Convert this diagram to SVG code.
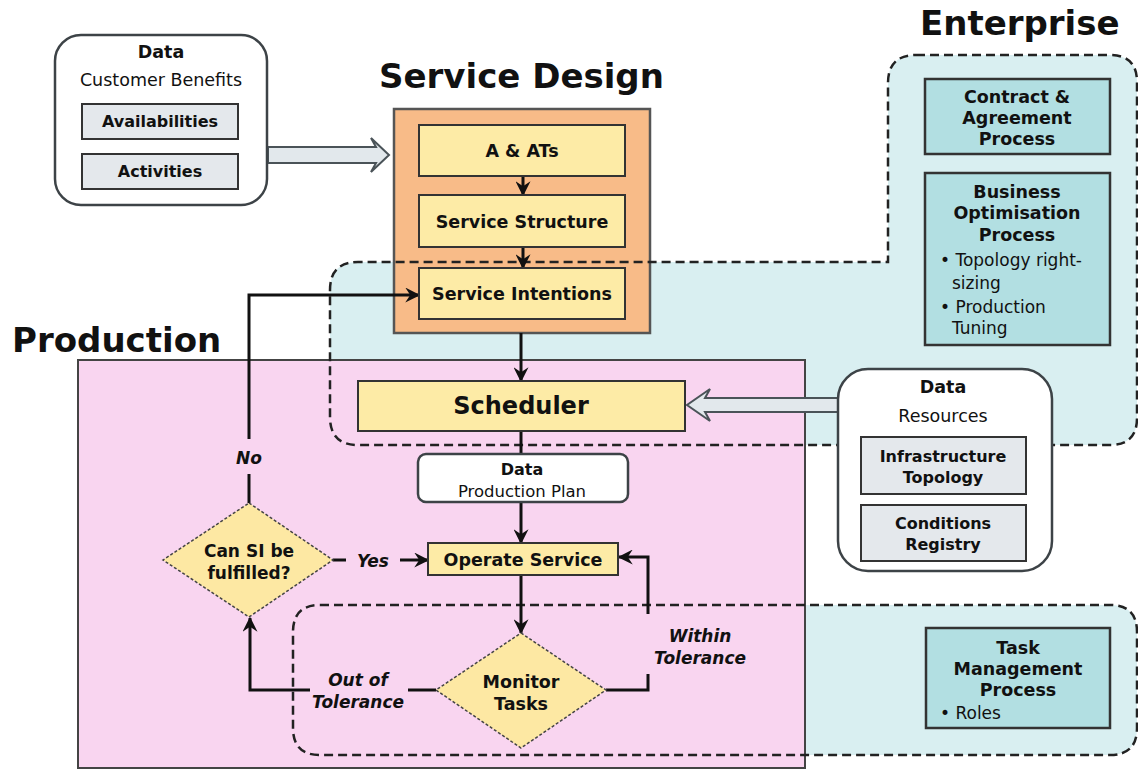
<svg xmlns="http://www.w3.org/2000/svg" width="1138" height="770" viewBox="0 0 1138 770">
<style>
text{font-family:"DejaVu Sans","Liberation Sans",sans-serif;fill:#111;}
.t{font-size:34px;font-weight:bold;}
.b{font-size:17.5px;font-weight:bold;text-anchor:middle;}
.n{font-size:17.5px;text-anchor:middle;}
.l{font-size:17px;}
.s{font-size:16px;}
.lab{font-size:17px;font-weight:bold;font-style:italic;text-anchor:middle;}
.data{fill:#fff;stroke:#3d4347;stroke-width:2.5;}
.inner{fill:#e4e8ec;stroke:#333;stroke-width:2;}
.yel{fill:#fdeba6;stroke:#333;stroke-width:2;}
.teal{fill:#b2dfe2;stroke:#333;stroke-width:2.5;}
.dash{fill:none;stroke:#222;stroke-width:2.5;stroke-dasharray:9 5;}
.hollow{fill:#e2e8ec;stroke:#4a5358;stroke-width:2;}
.c{fill:none;stroke:#111;stroke-width:3;}
.ca{fill:none;stroke:#111;stroke-width:3;marker-end:url(#ah);}
</style>
<defs>
<marker id="ah" viewBox="0 0 12 12" refX="11" refY="6" markerWidth="5" markerHeight="5" orient="auto" markerUnits="strokeWidth">
<path d="M0,0 L12,6 L0,12 L4,6 Z" fill="#111"/>
</marker>
</defs>
<rect width="1138" height="770" fill="#fff"/>

<g id="enterprise-fill">
<path d="M916,55 L1110,55 Q1137,55 1137,82 L1137,418 Q1137,445 1110,445 L358,445 Q330,445 330,417 L330,290 Q330,262 358,262 L888,262 L888,83 Q888,55 916,55 Z" fill="#d9eff1"/>
<path d="M320,605 L1110,605 Q1137,605 1137,632 L1137,728 Q1137,755 1110,755 L320,755 Q293,755 293,728 L293,632 Q293,605 320,605 Z" fill="#d9eff1"/>
</g>
<g id="production">
<rect x="78" y="360" width="727" height="408" fill="#f9d5f0" stroke="#444" stroke-width="2"/>
<text class="t" x="12" y="352">Production</text>
</g>

<g id="service-design">
<text class="t" x="379" y="88">Service Design</text>
<rect x="394" y="109" width="256" height="224" fill="#f8bb88" stroke="#555" stroke-width="2.5"/>
</g>

<g id="enterprise-outline">
<path class="dash" d="M916,55 L1110,55 Q1137,55 1137,82 L1137,418 Q1137,445 1110,445 L358,445 Q330,445 330,417 L330,290 Q330,262 358,262 L888,262 L888,83 Q888,55 916,55 Z"/>
<text class="t" x="920" y="35">Enterprise</text>
</g>
<g id="task-region">
<path class="dash" d="M320,605 L1110,605 Q1137,605 1137,632 L1137,728 Q1137,755 1110,755 L320,755 Q293,755 293,728 L293,632 Q293,605 320,605 Z"/>
</g>

<g id="connectors">
<polygon class="hollow" points="268,147 376,147 371,138 389,155 371,172 376,163 268,163"/>
<polygon class="hollow" points="838,398 705,398 710,389 687,405 710,421 705,412 838,412"/>
<line class="ca" x1="523" y1="176" x2="523" y2="195"/>
<line class="ca" x1="523" y1="247" x2="523" y2="268"/>
<line class="ca" x1="521" y1="333" x2="521" y2="381"/>
<line class="c" x1="521" y1="431" x2="521" y2="454"/>
<line class="ca" x1="521" y1="502" x2="521" y2="543"/>
<line class="ca" x1="521" y1="575" x2="521" y2="633"/>
<polyline class="c" points="606,690 648,690 648,674"/>
<polyline class="ca" points="648,614 648,557 619,557"/>
<text class="lab" x="700" y="642">Within</text>
<text class="lab" x="700" y="664">Tolerance</text>
<line class="c" x1="436" y1="690" x2="408" y2="690"/>
<polyline class="ca" points="310,690 250,690 250,618"/>
<text class="lab" x="358" y="686">Out of</text>
<text class="lab" x="358" y="708">Tolerance</text>
<line class="c" x1="333" y1="560" x2="346" y2="560"/>
<line class="ca" x1="400" y1="560" x2="428" y2="560"/>
<text class="lab" x="373" y="567">Yes</text>
<line class="c" x1="249" y1="503" x2="249" y2="474"/>
<polyline class="ca" points="249,439 249,295 419,295"/>
<text class="lab" x="249" y="464">No</text>
</g>

<g id="data-customer">
<rect class="data" x="55" y="35" width="212" height="170" rx="26"/>
<text class="b" x="161" y="58">Data</text>
<text class="n" x="161" y="86">Customer Benefits</text>
<rect class="inner" x="82" y="104" width="156" height="35"/>
<text class="b" x="160" y="127" style="font-size:16px">Availabilities</text>
<rect class="inner" x="82" y="154" width="156" height="35"/>
<text class="b" x="160" y="177" style="font-size:16px">Activities</text>
</g>

<g id="a-ats"><rect class="yel" x="419" y="125" width="206" height="51"/><text class="b" x="522" y="157">A &amp; ATs</text></g>
<g id="service-structure"><rect class="yel" x="419" y="195" width="206" height="52"/><text class="b" x="522" y="228">Service Structure</text></g>
<g id="service-intentions"><rect class="yel" x="419" y="268" width="206" height="51"/><text class="b" x="522" y="300">Service Intentions</text></g>

<g id="scheduler"><rect class="yel" x="358" y="381" width="327" height="50"/><text class="b" x="521" y="414" style="font-size:24px">Scheduler</text></g>

<g id="data-plan">
<rect class="data" x="418" y="454" width="210" height="48" rx="8"/>
<text class="b" x="522" y="475" style="font-size:16px">Data</text>
<text class="n" x="522" y="497" style="font-size:16.5px">Production Plan</text>
</g>

<g id="operate-service"><rect class="yel" x="428" y="543" width="190" height="32"/><text class="b" x="523" y="566">Operate Service</text></g>

<g id="can-si">
<polygon points="249,503 333,560 249,617 163,560" fill="#fde8a3" stroke="#444" stroke-width="1.5" stroke-dasharray="3 2"/>
<text class="b" x="249" y="557" style="font-size:17px">Can SI be</text>
<text class="b" x="249" y="579" style="font-size:17px">fulfilled?</text>
</g>

<g id="monitor-tasks">
<polygon points="521,633 606,690 521,748 436,690" fill="#fde8a3" stroke="#444" stroke-width="1.5" stroke-dasharray="3 2"/>
<text class="b" x="521" y="688">Monitor</text>
<text class="b" x="521" y="710">Tasks</text>
</g>

<g id="data-resources">
<rect class="data" x="838" y="369" width="214" height="202" rx="30"/>
<text class="b" x="943" y="393">Data</text>
<text class="n" x="943" y="422">Resources</text>
<rect class="inner" x="861" y="437" width="165" height="57"/>
<text class="b" x="943" y="462" style="font-size:16px">Infrastructure</text>
<text class="b" x="943" y="483" style="font-size:16px">Topology</text>
<rect class="inner" x="861" y="505" width="165" height="56"/>
<text class="b" x="943" y="529" style="font-size:16px">Conditions</text>
<text class="b" x="943" y="550" style="font-size:16px">Registry</text>
</g>

<g id="contract">
<rect class="teal" x="925" y="79" width="185" height="75"/>
<text class="b" x="1017" y="103">Contract &amp;</text>
<text class="b" x="1017" y="124">Agreement</text>
<text class="b" x="1017" y="145">Process</text>
</g>

<g id="business-opt">
<rect class="teal" x="925" y="173" width="185" height="172"/>
<text class="b" x="1017" y="198">Business</text>
<text class="b" x="1017" y="219">Optimisation</text>
<text class="b" x="1017" y="241">Process</text>
<text class="l" x="940" y="266">• Topology right-</text>
<text class="l" x="952" y="289">sizing</text>
<text class="l" x="940" y="313">• Production</text>
<text class="l" x="952" y="334">Tuning</text>
</g>

<g id="task-mgmt">
<rect class="teal" x="926" y="628" width="184" height="100"/>
<text class="b" x="1018" y="654">Task</text>
<text class="b" x="1018" y="675">Management</text>
<text class="b" x="1018" y="696">Process</text>
<text class="l" x="940" y="719">• Roles</text>
</g>
</svg>
